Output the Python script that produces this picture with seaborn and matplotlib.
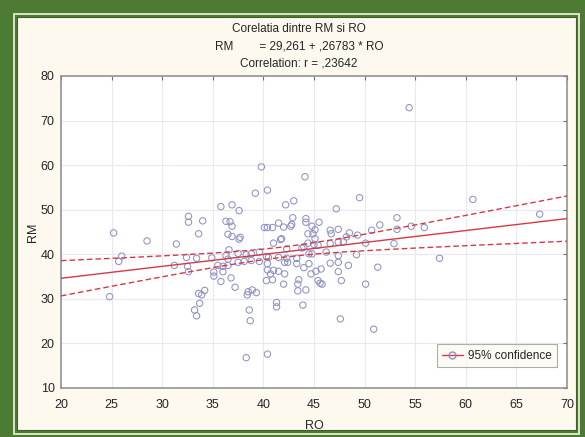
import numpy as np
import pandas as pd
import matplotlib
matplotlib.use("Agg")
import matplotlib.pyplot as plt
import seaborn as sns
from matplotlib.patches import Rectangle
from matplotlib.lines import Line2D

# ---------------- data ----------------
ro = [25.2, 28.5, 26.0, 25.7, 24.8, 32.6, 32.6, 34.0, 33.6, 31.4,
      32.4, 33.4, 31.2, 32.5, 32.6, 33.6, 34.2, 33.9, 33.7, 33.2,
      33.4, 36.3, 36.7, 36.9, 36.5, 36.9, 37.6, 37.7, 36.6, 34.9,
      36.3, 37.5, 38.3, 36.5, 35.5, 36.0, 36.5, 37.5, 38.1, 35.1,
      35.1, 36.0, 35.8, 36.8, 37.2, 38.5, 38.9, 39.3, 38.4, 38.6,
      38.7, 38.3, 40.4, 38.8, 39.6, 40.3, 38.8, 39.6, 40.4, 40.5,
      41.0, 41.7, 40.1, 40.4, 40.9, 41.5, 42.0, 42.7, 42.8, 40.4,
      41.0, 40.7, 40.9, 40.3, 42.1, 42.0, 41.5, 41.3, 41.3, 41.5,
      42.1, 42.4, 42.3, 42.3, 43.3, 44.0, 44.5, 43.5, 43.4, 43.4,
      44.2, 43.9, 44.7, 45.2, 45.7, 45.4, 45.6, 45.8, 43.3, 43.8,
      44.0, 44.5, 44.8, 44.4, 45.0, 45.4, 45.1, 44.9, 44.4, 45.1,
      44.8, 45.5, 44.2, 46.2, 46.6, 46.7, 47.4, 46.6, 47.4, 47.9,
      47.4, 47.4, 46.6, 47.4, 48.4, 47.7, 47.6, 48.5, 48.2, 49.3,
      49.2, 50.1, 50.1, 50.7, 51.5, 51.3, 50.9, 52.9, 53.2, 53.2,
      54.4, 60.7, 67.3, 57.4, 54.6, 55.9, 39.8, 44.1, 39.2, 40.4,
      35.8, 36.9, 37.6, 42.2, 43.0, 49.5, 47.2, 42.9, 44.2, 41.8]
rm = [44.8, 43.0, 39.6, 38.4, 30.5, 48.5, 47.2, 47.5, 44.6, 42.3,
      39.3, 39.1, 37.5, 37.3, 36.1, 31.2, 31.9, 30.9, 29.0, 27.5,
      26.2, 47.4, 47.3, 46.3, 44.5, 44.0, 43.4, 43.8, 41.0, 39.2,
      39.7, 40.2, 39.9, 38.9, 37.5, 37.3, 37.5, 38.2, 38.4, 36.0,
      35.1, 36.1, 33.9, 34.7, 32.6, 31.6, 32.0, 31.4, 30.9, 27.5,
      25.1, 16.8, 17.6, 40.1, 40.5, 39.5, 38.6, 38.4, 37.9, 39.3,
      42.5, 43.3, 46.0, 46.0, 46.0, 47.0, 46.1, 46.3, 46.7, 36.5,
      36.4, 35.6, 34.3, 34.1, 35.6, 33.3, 36.2, 29.2, 28.2, 39.3,
      38.2, 38.2, 39.1, 41.2, 37.9, 37.0, 37.9, 34.3, 33.3, 31.8,
      32.0, 28.6, 35.6, 36.2, 36.7, 34.1, 33.5, 33.3, 39.1, 41.4,
      41.6, 40.1, 40.1, 42.5, 42.2, 42.0, 43.5, 44.6, 44.6, 45.5,
      46.3, 47.2, 47.2, 40.5, 45.4, 44.6, 45.6, 42.4, 42.7, 42.8,
      39.7, 38.2, 38.0, 36.1, 37.5, 34.1, 25.5, 44.8, 43.9, 44.3,
      39.9, 42.5, 33.3, 45.4, 46.6, 37.1, 23.2, 42.4, 45.6, 48.2,
      72.9, 52.3, 49.0, 39.1, 46.3, 46.0, 59.6, 57.4, 53.7, 54.4,
      50.7, 51.1, 49.8, 51.1, 52.0, 52.7, 50.2, 48.2, 48.0, 43.5]

intercept = 29.261
slope = 0.26783
r_value = 0.23642

x_ticks = [20, 25, 30, 35, 40, 45, 50, 55, 60, 65, 70]
y_ticks = [10, 20, 30, 40, 50, 60, 70, 80]

title_main = "Corelatia dintre RM si RO"
x_label = "RO"
y_label = "RM"
legend_label = "95% confidence"

# ---------------- style ----------------
sns.set_style("white")
plt.rcParams["font.family"] = ["Liberation Sans", "DejaVu Sans"]

GREEN = "#4e7b33"
CREAM = "#fdf9ef"
RED = "#d43a46"
PT = "#8e92c2"
TXT = "#262626"
W, H = 585, 437

fig = plt.figure(figsize=(W / 100, H / 100), dpi=100, facecolor=GREEN)

def fx(px):
    return px / W

def fy(py):
    return 1 - py / H

# decorative frame (behind everything)
fig.patches.append(Rectangle((fx(14), fy(433.5)), (579 - 14) / W, (433.5 - 14) / H,
                             transform=fig.transFigure, fill=False,
                             edgecolor="#e3ecd3", linewidth=1.3, zorder=-20))
fig.patches.append(Rectangle((fx(17), fy(430)), (576 - 17) / W, (430 - 17) / H,
                             transform=fig.transFigure, facecolor=CREAM,
                             edgecolor="#3f6229", linewidth=0.8, zorder=-20))

ax = fig.add_axes([fx(61), fy(388), (567 - 61) / W, (388 - 76) / H])
ax.set_zorder(5)
ax.set_facecolor("white")

df = pd.DataFrame({"RO": ro, "RM": rm})

# regression line and 95% confidence band (from stated coefficients)
xs = np.linspace(x_ticks[0], x_ticks[-1], 200)
fit = intercept + slope * xs
x_arr = np.asarray(ro)
y_arr = np.asarray(rm)
n = len(x_arr)
resid = y_arr - (intercept + slope * x_arr)
s = np.sqrt(np.sum(resid ** 2) / (n - 2))
sxx = np.sum((x_arr - x_arr.mean()) ** 2)
half = 1.97 * s * np.sqrt(1.0 / n + (xs - x_arr.mean()) ** 2 / sxx)
line_df = pd.DataFrame({"x": xs, "fit": fit, "lo": fit - half, "hi": fit + half})

sns.scatterplot(data=df, x="RO", y="RM", ax=ax, marker="o", s=21,
                facecolors="none", edgecolor=PT, linewidth=0.75, zorder=3)
sns.lineplot(data=line_df, x="x", y="fit", ax=ax, color=RED, linewidth=1.0, zorder=4)
for col in ["lo", "hi"]:
    sns.lineplot(data=line_df, x="x", y=col, ax=ax, color=RED, linewidth=1.0, zorder=4)
    ax.lines[-1].set_dashes([4, 2.2])

ax.set_xlim(x_ticks[0], x_ticks[-1])
ax.set_ylim(y_ticks[0], y_ticks[-1])
ax.set_xticks(x_ticks)
ax.set_yticks(y_ticks)
ax.grid(True, color="#e8e8f0", linewidth=0.8, zorder=0)
ax.set_axisbelow(True)
ax.tick_params(axis="both", which="both", direction="in", length=3, width=0.8,
               color="#707070", labelsize=9, labelcolor=TXT,
               top=True, right=True)
ax.tick_params(axis="x", pad=8)
ax.tick_params(axis="y", pad=4.5)
for sp in ax.spines.values():
    sp.set_color("#8c8c8c")
    sp.set_linewidth(1.1)

ax.set_xlabel(x_label, fontsize=9, color=TXT, labelpad=6.5)
ax.set_ylabel(y_label, fontsize=9, color=TXT, labelpad=1.5)

# titles
def dec(v, nd):
    t = f"{v:.{nd}f}".replace(".", ",")
    if t.startswith("0,"):
        t = t[1:]
    return t

eq = f"RM        = {dec(intercept, 3)} + {dec(slope, 5)} * RO"
corr = f"Correlation: r = {dec(r_value, 5)}"
cx = fx(299)
fig.text(cx, fy(29), title_main, ha="center", va="center", fontsize=8.5, color=TXT)
fig.text(cx, fy(46.5), eq, ha="center", va="center", fontsize=8.5, color=TXT)
fig.text(cx, fy(63.5), corr, ha="center", va="center", fontsize=8.5, color=TXT)

handle = Line2D([0], [0], color=RED, linewidth=1.0, marker="o", markersize=5,
                markerfacecolor="none", markeredgecolor=PT)
leg = ax.legend([handle], [legend_label], loc="lower right",
                bbox_to_anchor=(0.98, 0.067), fontsize=8.5, frameon=True,
                fancybox=False, handlelength=1.8, handletextpad=0.4,
                borderpad=0.45, borderaxespad=0)
leg.get_frame().set_edgecolor("#9a9a9a")
leg.get_frame().set_facecolor("#fbf9f1")
leg.get_frame().set_linewidth(0.8)

fig.savefig("out.png", dpi=100, facecolor=GREEN)
